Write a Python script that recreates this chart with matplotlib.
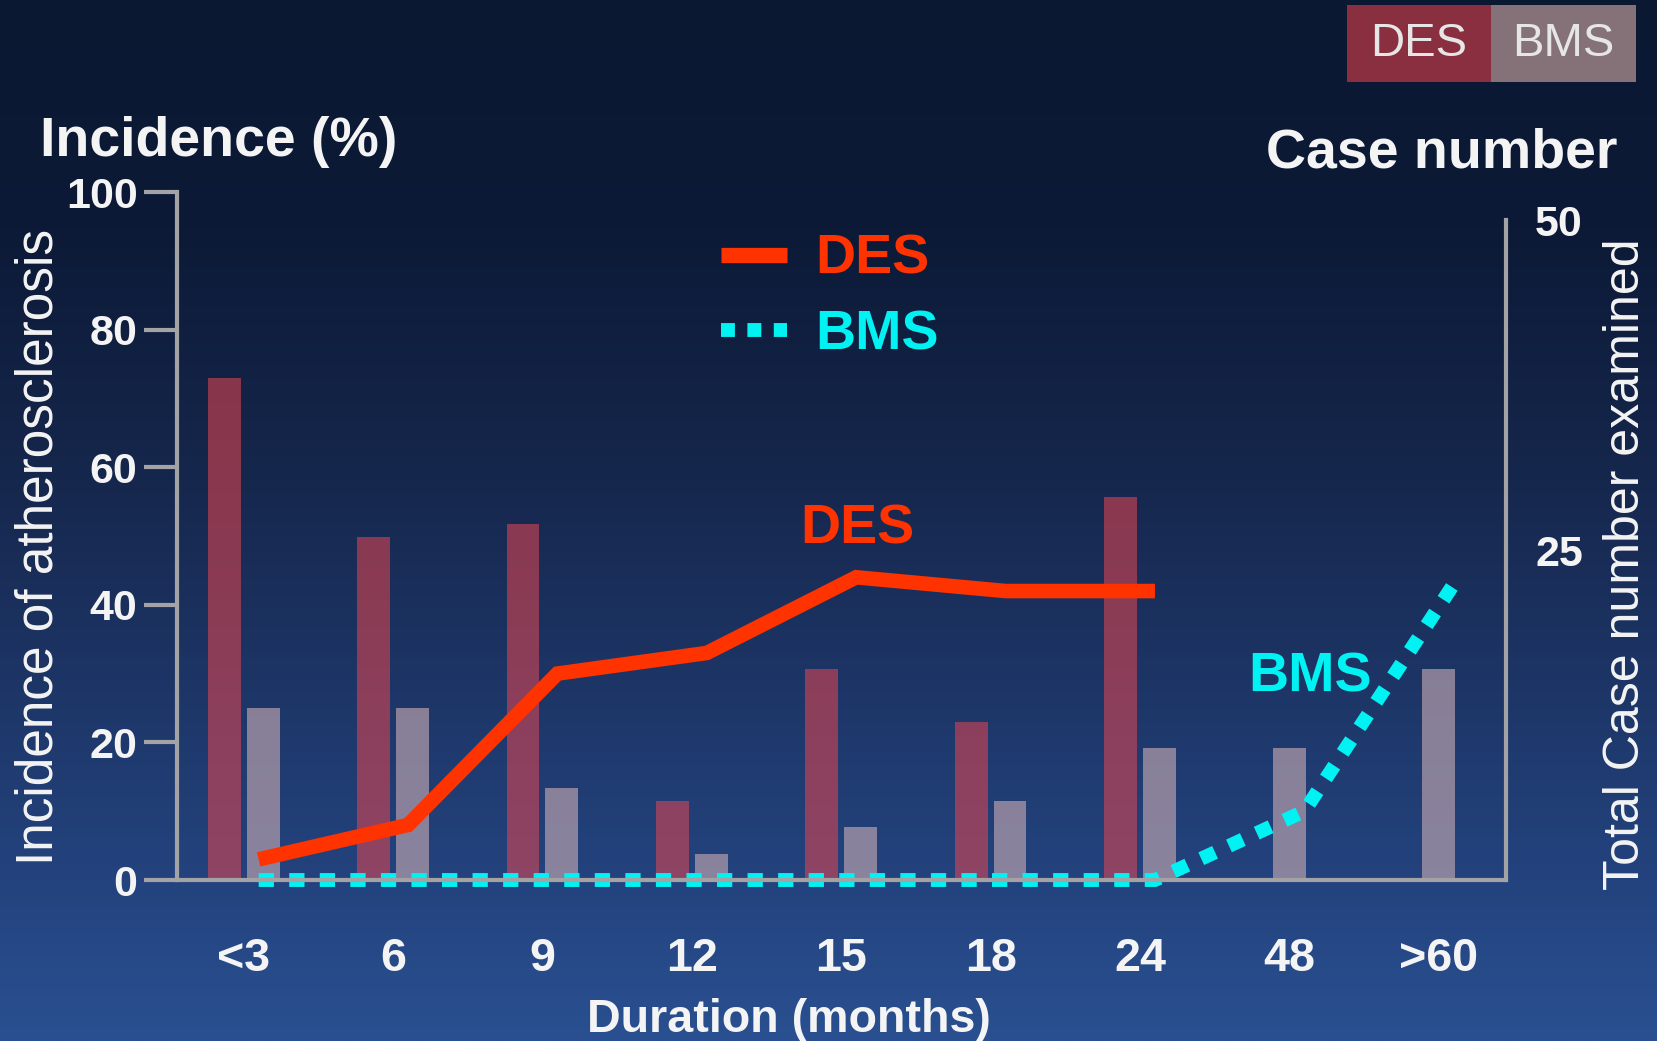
import numpy as np
import matplotlib
matplotlib.use("Agg")
import matplotlib.pyplot as plt
from matplotlib import font_manager
from matplotlib.patches import Rectangle
from matplotlib.lines import Line2D

# ---- data -------------------------------------------------------------
durations = ["<3", "6", "9", "12", "15", "18", "24", "48", ">60"]
des_cases = [38, 26, 27, 6, 16, 12, 29, 0, 0]          # total cases examined (right axis)
bms_cases = [13, 13, 7, 2, 4, 6, 10, 10, 16]
des_incidence = [3, 8, 30, 33, 44, 42, 42]             # % atherosclerosis, DES (up to 24 months)
bms_incidence = [0, 0, 0, 0, 0, 0, 0, 10, 43]          # % atherosclerosis, BMS
left_ticks = [0, 20, 40, 60, 80, 100]
right_ticks = [25, 50]

# ---- fonts ------------------------------------------------------------
def has_font(name):
    try:
        font_manager.findfont(font_manager.FontProperties(family=name),
                              fallback_to_default=False)
        return True
    except ValueError:
        return False

SANS = "Liberation Sans" if has_font("Liberation Sans") else "DejaVu Sans"
if has_font("Liberation Sans Narrow"):
    NARROW, nscale = "Liberation Sans Narrow", 1.0
else:
    NARROW, nscale = SANS, 0.84

# ---- colours ----------------------------------------------------------
RED = "#FF3300"
CYAN = "#00F2F2"
AXIS_GREY = "#A3A3A6"
DES_BAR = (232 / 255, 70 / 255, 80 / 255)
BMS_BAR = (182 / 255, 159 / 255, 172 / 255)
WHITE = "#F4F4F4"

W, H = 1657, 1041
fig = plt.figure(figsize=(W / 100, H / 100), dpi=100)

# vertical navy-to-blue background
bg = fig.add_axes([0, 0, 1, 1], zorder=-10)
rows = np.linspace(0, 1, H)
stop_pos = [0.0, 0.22, 0.46, 0.86, 1.0]
stop_rgb = np.array([(11, 24, 50), (12, 26, 55), (22, 39, 77), (36, 68, 128), (42, 80, 145)]) / 255
grad = np.stack([np.interp(rows, stop_pos, stop_rgb[:, c]) for c in range(3)], axis=-1)
bg.imshow(grad[:, None, :], aspect="auto", extent=[0, 1, 0, 1], interpolation="bilinear")
bg.set_axis_off()

# plot area in pixel units
x0, x1 = 176.5, 1506
y_zero, y_top = 880, 192
y_case50 = 220
ax = fig.add_axes([x0 / W, 1 - y_zero / H, (x1 - x0) / W, (y_zero - y_top) / H])
ax2 = ax.twinx()
ax.set_zorder(ax2.get_zorder() + 1)
ax.patch.set_visible(False)
ax2.patch.set_visible(False)

x = np.arange(len(durations))
ax.set_xlim(-0.45, len(durations) - 0.55)
ax.set_ylim(0, 100)
ax2.set_ylim(0, 50 * (y_zero - y_top) / (y_zero - y_case50))

# ---- bars: case numbers on the right axis -----------------------------
bw, off = 0.22, 0.13
des_c = np.array(des_cases)
bms_c = np.array(bms_cases)
des_x = x - off
bms_x = np.where(des_c > 0, x + off, x)
ax2.bar(des_x, des_c, width=bw, color=DES_BAR, alpha=0.55, linewidth=0)
ax2.bar(bms_x, bms_c, width=bw, color=BMS_BAR, alpha=0.7, linewidth=0)

# ---- lines: incidence on the left axis --------------------------------
lx = x + 0.1
ax.plot(lx[:len(des_incidence)], des_incidence, color=RED, lw=10.5,
        solid_joinstyle="miter", solid_capstyle="butt", clip_on=False)
ax.plot(lx, bms_incidence, color=CYAN, lw=10, linestyle=(0, (1.1, 1.1)),
        dash_capstyle="butt", clip_on=False)

# ---- axes styling ------------------------------------------------------
for s in ["top", "right"]:
    ax.spines[s].set_visible(False)
for s in ["top", "left", "bottom"]:
    ax2.spines[s].set_visible(False)
ax.spines["left"].set_color(AXIS_GREY)
ax.spines["left"].set_linewidth(3)
ax.spines["bottom"].set_color(AXIS_GREY)
ax.spines["bottom"].set_linewidth(3)
ax2.spines["right"].set_color(AXIS_GREY)
ax2.spines["right"].set_linewidth(3)
ax2.spines["right"].set_bounds(0, 50)

ax.set_yticks(left_ticks)
ax.set_yticklabels([str(v) for v in left_ticks], fontsize=31, fontweight="bold",
                   color=WHITE, family=SANS)
ax.tick_params(axis="y", direction="out", length=24, width=3, color=AXIS_GREY, pad=4)

ax.set_xticks(x)
ax.set_xticklabels(durations, fontsize=40 * nscale, fontweight="bold",
                   color=WHITE, family=NARROW)
ax.tick_params(axis="x", length=0, pad=41)

ax2.set_yticks(right_ticks)
ax2.set_yticklabels([str(v) for v in right_ticks], fontsize=31, fontweight="bold",
                    color=WHITE, family=SANS)
ax2.tick_params(axis="y", length=0, pad=21)

# ---- titles and axis labels --------------------------------------------
fig.text(40 / W, 1 - 156 / H, "Incidence (%)", fontsize=40, fontweight="bold",
         color=WHITE, family=SANS, ha="left", va="baseline")
fig.text(1617 / W, 1 - 167 / H, "Case number", fontsize=40, fontweight="bold",
         color=WHITE, family=SANS, ha="right", va="baseline")
fig.text(39 / W, 1 - 547 / H, "Incidence of atherosclerosis", rotation=90,
         fontsize=44 * nscale, color=WHITE, family=NARROW, ha="center", va="center")
fig.text(1626 / W, 1 - 564 / H, "Total Case number examined", rotation=90,
         fontsize=43 * nscale, color=WHITE, family=NARROW, ha="center", va="center")
fig.text(789 / W, 1 - 1020 / H, "Duration (months)", fontsize=40 * nscale,
         fontweight="bold", color=WHITE, family=NARROW, ha="center", va="center")

# ---- line legend and in-plot labels ------------------------------------
handles = [Line2D([], [], color=RED, lw=11, solid_capstyle="butt"),
           Line2D([], [], color=CYAN, lw=10, linestyle=(0, (1.0, 0.9)),
                  dash_capstyle="butt")]
leg = ax.legend(handles, ["DES", "BMS"], loc="upper left",
                bbox_to_anchor=(721 / W, 1 - 234 / H), bbox_transform=fig.transFigure,
                frameon=False, borderpad=0, borderaxespad=0, handlelength=1.18,
                handletextpad=0.52, labelspacing=0.42, labelcolor="linecolor",
                prop={"family": SANS, "weight": "bold", "size": 40})

ax.text(4.11, 50.9, "DES", color=RED, fontsize=40, fontweight="bold",
        family=SANS, ha="center", va="center")
ax.text(7.14, 29.4, "BMS", color=CYAN, fontsize=40, fontweight="bold",
        family=SANS, ha="center", va="center")

# ---- bar key boxes (top right) ------------------------------------------
box_y0, box_y1 = 1 - 82 / H, 1 - 5 / H
for left, width, fc, label in [(1347, 144, "#8A2F40", "DES"), (1491, 145, "#857279", "BMS")]:
    fig.add_artist(Rectangle((left / W, box_y0), width / W, box_y1 - box_y0,
                             transform=fig.transFigure, facecolor=fc, edgecolor="none"))
    fig.text((left + width / 2) / W, (box_y0 + box_y1) / 2, label, fontsize=34,
             color="#E6E6E6", family=SANS, ha="center", va="center")

fig.savefig("out.png", dpi=100)
